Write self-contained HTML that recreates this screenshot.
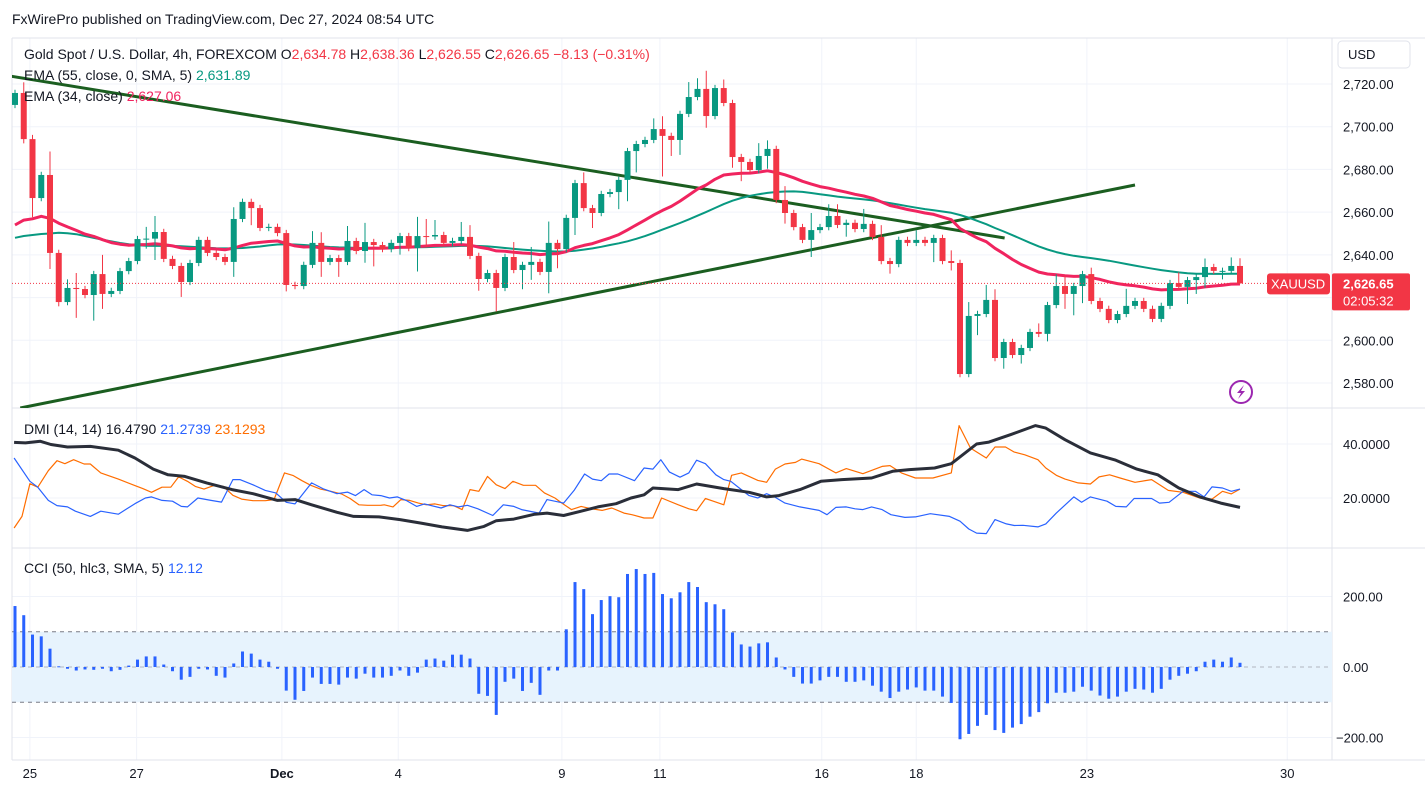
<!DOCTYPE html>
<html><head><meta charset="utf-8"><style>
html,body{margin:0;padding:0;background:#fff;}
body{width:1425px;height:805px;overflow:hidden;font-family:"Liberation Sans",sans-serif;}
svg text{font-family:"Liberation Sans",sans-serif;}
</style></head><body>
<svg id="c" width="1425" height="805" xmlns="http://www.w3.org/2000/svg">
<defs><clipPath id="mainclip"><rect x="12" y="38" width="1320" height="370"/></clipPath></defs>
<text x="12" y="24" font-size="14" fill="#131722">FxWirePro published on TradingView.com, Dec 27, 2024 08:54 UTC</text>
</svg>
<script>
const closes=[2715.8,2694.2,2666.6,2677.4,2640.9,2617.9,2624.5,2624.0,2621.2,2631,2621.7,2623.1,2632.4,2637.1,2647.4,2647.6,2650.7,2638.1,2634.8,2627.3,2636.2,2647,2640.9,2639,2636.7,2656.8,2664.8,2661.9,2652.6,2653.1,2650.2,2625.9,2625.4,2635.3,2645.6,2636.7,2638.5,2636.7,2646.5,2641.8,2646,2644.6,2642.7,2645.6,2648.8,2643.2,2648.8,2648.6,2649.3,2645.6,2646.5,2648.4,2639.5,2628.7,2631.5,2624.5,2639,2632.9,2635.3,2636.7,2632,2645.6,2642.7,2657.3,2673.6,2661.9,2659.6,2668.5,2669.4,2675.1,2688.6,2691.9,2693.8,2698.9,2695.7,2693.8,2706,2713.9,2717.7,2705,2718.1,2711.1,2685.8,2683.5,2679.7,2686.3,2689.6,2665.7,2659.6,2653,2647,2651.6,2653,2658.2,2654,2655,2652.1,2654.5,2648.4,2637.1,2635.7,2647,2645.6,2647,2645.6,2647.9,2637.1,2636.2,2584.2,2611.4,2612.3,2618.9,2591.7,2599.2,2593.1,2596.4,2603.9,2603,2616.5,2625.4,2621.7,2625.4,2631,2618.4,2614.7,2609.5,2612.3,2616.1,2618.4,2614.7,2610,2616.1,2626.8,2625,2628.2,2629.6,2634.3,2632.5,2632.5,2634.8,2626.65];
const firstOpen=2710.2;
const wickUp={2:5,3:2,5:11,7:4,8:7,11:9,16:5.5,17:7.5,26:5.5,35:5.5,36:5,39:7,41:9,47:9,48:8,49:7,52:7,53:5.5,58:7,60:7,62:10,66:5,74:5,75:6,78:7,79:5,80:8.5,82:4,86:6,87:4,89:6.5,92:8,94:5.5,95:5.5,98:7,100:5.5,104:4.5,108:5,110:6.5,112:7,113:5,118:4,120:5.5,121:5,124:3,128:8,134:5,137:4,140:4,141:3.6};
const wickDn={2:2,3:9,5:7.5,6:2,8:13.5,10:12,11:7,16:4.5,17:10,20:7,26:7,28:8,32:3,36:7,38:7,41:5.5,42:10,45:5.5,47:11,48:5,54:5.5,56:11,59:9,60:7,62:10,63:9,65:8,67:7,70:8,71:10,72:10,75:19,76:7.5,77:7,80:5.5,83:5,84:9,87:6,89:5,92:8,96:5.5,101:4.5,106:9,108:3.5,111:9,114:5,116:4,119:3.5,121:7,122:10,123:8,135:8,136:6.5,137:5,139:4,141:0.1};
const cci=[173,147,92,87,52,2,-5,-10,-7,-8,-5,-12,-8,4,21,30,30,7,-12,-36,-28,-5,-7,-25,-30,10,44,38,21,15,-5,-67,-93,-68,-30,-48,-48,-50,-30,-33,-19,-30,-30,-25,-10,-25,-16,21,24,18,35,35,24,-76,-82,-136,-42,-33,-68,-45,-79,-10,-10,107,241,221,150,190,201,198,264,278,264,267,207,195,212,241,227,184,178,164,98,64,58,67,70,27,-7,-28,-47,-47,-38,-28,-28,-42,-42,-38,-53,-70,-88,-70,-64,-58,-67,-67,-84,-102,-205,-190,-167,-136,-179,-187,-172,-162,-141,-128,-103,-73,-73,-70,-56,-67,-81,-90,-84,-70,-62,-64,-73,-62,-36,-25,-19,-12,15,21,15,27,12];
const adxBars=[0.9,2.2,3.9,5.1,7,9.6,12.8,14.7,16.8,18.5,20.4,22.9,25.8,28.2,31,33,34.9,37.8,39.7,42.6,45,47.4,49.8,52.7,54.6,56,58,60.4,61.8,63.7,65.7,67.6,69.7,71.4,72.9,73.9,76.8,78.9,82,84.9,86.9,88.3,90.7,93.1,95.5,98.9,101.3,103.2,106.1,108,110.9,112.3,114.8,117.6,118.8,121,123.9,126.8,129.2,131.6,134,136.4,138.8,141];
const adxVals=[40.6,40.4,41,39.8,38.9,39.1,37.7,34.8,30.7,28.6,28,25.6,23.1,21.6,19.1,19.4,17.5,14.7,13.2,13,12,10.7,9.3,8,9.5,11.6,12.2,14,14.4,13.5,15.1,16.7,17.9,20,21.2,23.7,23.1,25.2,23.5,22.1,20.4,20.9,23.1,26.2,26.8,27.4,29.9,30.5,31.1,32.7,40,40.7,43.5,46.8,45.9,41.6,36.7,34,30.7,28.6,23.7,20.4,18.1,16.5];
const pdiBars=[0.9,2.7,3.6,4.8,5.8,7,7.9,9.6,10.8,12.8,14.7,15.9,16.6,17.8,19,20,20.7,21.9,23.4,24.6,25.9,26.7,28.2,29.6,30.8,32,33,34.9,36.3,37.8,39,39.9,40.9,41.8,42.8,43.8,44.7,45.7,46.9,47.8,49.7,50.7,51.7,52.7,53.9,55.6,56.8,58,58.9,60.9,61.8,63.7,64.9,66.1,67,68,68.9,69.9,71.8,72.9,73.9,74.8,75.8,77,78,78.9,79.9,81.1,82,82.8,84,84.9,85.9,86.9,87.8,89,90.7,92.9,93.8,94.8,96,97,97.9,98.9,100.1,101.1,102.7,103.9,105.6,107.8,109,110,110.9,112,113,114.3,115.2,116.2,117.9,118.8,120,122,122.9,123.9,125.8,126.8,128,128.9,130.9,131.8,132.9,134.5,135.9,136.9,137.8,139,140,141];
const pdiVals=[34.8,26.2,24,19.1,17.2,16.7,15.1,13.2,15.1,14,17.9,20,20.4,19.1,18.8,16.9,16.7,20,19.1,18.5,26.8,26.8,24.9,22.8,21.9,18.4,17.8,25.6,23.3,21.6,22.2,20.9,23.1,21.2,20.9,20,20.4,19.1,16.9,17.8,16.3,17.5,16.7,17.3,16,13.5,17.5,16.9,15.7,14.4,19.4,18.1,22.8,28.9,27,26.4,28.9,28.9,26.4,31.1,30.7,34.2,29.6,27.7,29.3,34,32.7,28.6,26.8,26.2,23.1,20.9,20,21.6,20.4,18.1,16.7,15.4,13.8,16.5,16.7,16,15.7,16.7,15.7,13.8,12.8,13,14.2,13.2,11.4,8.5,7,6.8,12,10.4,9.8,9.9,9.3,10.4,14.4,20.4,18.4,20.4,18.8,16.9,16.7,19.8,19.8,18.1,18.4,22.5,22.5,20.4,24.1,23.7,22.5,23.3,21.2];
const mdiBars=[0.9,1.8,2.7,3.6,4.8,5.8,6.7,7.7,8.9,9.6,10.8,12.8,14.7,15.6,16.6,17.8,18.8,19.7,20.7,21.6,22.6,23.8,24.8,25.9,26.9,28.2,29.6,30.6,31.8,32.8,33.8,34.8,35.9,37.1,38.3,39.3,40.3,41.3,42.8,43.2,44.2,45.1,46.1,47.1,48,49,49.9,51.1,52.1,53,54,55,56,57,57.9,59.1,60.5,61.5,62.7,63.5,64.6,65.7,66.9,68.1,69.2,70.6,71.5,72.9,73.9,74.9,76.8,78,78.9,79.9,80.8,82,82.9,84,84.9,85.9,86.9,87.9,89,90.2,90.9,92.9,94.8,96,97.9,100.1,101,102.3,103.9,105.9,108,108.9,110.2,112,113,114.2,115.2,116.4,117.9,118.8,120,121,122.5,123.9,124.9,126.1,127.3,129,130.9,132.8,134.5,136.4,137.8,139,140,141];
const mdiVals=[8.9,13.2,25.3,24,30.1,33.8,32.7,34.2,32.6,32.6,29.3,27,24.6,23.5,22.1,24,24,27.8,26.2,24.3,23.3,24.7,24.3,21,19.6,19,19,19.4,29.3,28.3,26.4,24.7,23.3,22.5,21.5,19.8,17.5,17.3,17.3,17.5,16.7,19.4,19.1,18.1,17.5,17.8,17.2,17.2,15.7,23.1,22.5,28,24.9,23.5,26.2,24.7,24.7,21.9,20,18.1,15.7,16.9,16,15.4,16.3,14.4,13.8,12.6,12.6,20,17.5,16,15.3,19.8,18.8,17.5,28.4,29.3,28,26.5,25.8,30.7,32.6,33.2,34.4,32.7,29.3,30.9,29,31.7,32,29.3,27.4,27.4,29.3,46.8,38.5,34.8,38.9,38.9,37,36,34.2,31.1,28.4,27,25.6,25.2,27.8,28.6,27.4,25.8,26.8,22.8,22.1,20,19.6,22.5,21.5,23.3];
const priceTicks=[2720,2700,2680,2660,2640,2620,2600,2580];
const dmiTicks=[40,20];
const cciTicks=[200,0,-200];
const timeLabels=['25','27','Dec','4','9','11','16','18','23','30'];
const timeBars=[2.7,14.9,31.5,44.8,63.5,74.7,93.2,104,123.5,146.4];
const trend1=[[-0.3,2724.2],[114.1,2647.9]];
const trend2=[[1.6,2568.3],[129,2672.7]];
const lastPrice=2626.65;

const NS='http://www.w3.org/2000/svg';
const svg=document.getElementById('c');
function mk(tag,attrs,parent){const e=document.createElementNS(NS,tag);for(const k in attrs)e.setAttribute(k,attrs[k]);(parent||svg).appendChild(e);return e;}
const X=b=>15+(b-1)*8.75;
const PY=p=>84+(2720-p)*2.1357;
const DY=v=>498-(v-20)*2.7;
const CY=v=>667-v*0.3524;
const L=12,R=1332;

const grid=mk('g',{});


timeBars.forEach(b=>{mk('line',{x1:X(b),x2:X(b),y1:38,y2:760,stroke:'#f0f3fa','stroke-width':1},grid);});
priceTicks.forEach(p=>{mk('line',{x1:L,x2:R,y1:PY(p),y2:PY(p),stroke:'#f0f3fa'},grid);});
dmiTicks.forEach(v=>{mk('line',{x1:L,x2:R,y1:DY(v),y2:DY(v),stroke:'#f0f3fa'},grid);});
[200,-200].forEach(v=>{mk('line',{x1:L,x2:R,y1:CY(v),y2:CY(v),stroke:'#f0f3fa'},grid);});
[38,408,548,760].forEach(y=>{mk('line',{x1:L,x2:1425,y1:y,y2:y,stroke:'#e0e3eb'});});
mk('line',{x1:R,x2:R,y1:38,y2:760,stroke:'#e0e3eb'});
mk('line',{x1:L,x2:L,y1:38,y2:760,stroke:'#e0e3eb'});

const band=mk('rect',{x:L,y:CY(100),width:R-L,height:CY(-100)-CY(100),fill:'#e7f3fd'});


[100,0,-100].forEach(v=>{mk('line',{x1:L,x2:R,y1:CY(v),y2:CY(v),stroke:v===0?'#b2b5be':'#787b86','stroke-dasharray':'4 4'});});

const mainG=mk('g',{'clip-path':'url(#mainclip)'});


function trend(t,name){const ln=mk('line',{x1:X(t[0][0]),y1:PY(t[0][1]),x2:X(t[1][0]),y2:PY(t[1][1]),stroke:'#1b5e20','stroke-width':3},mainG);

}
trend(trend1,'descending-trendline');
trend(trend2,'ascending-trendline');

const ema34=[],ema55raw=[];let e34=2654,e55=2648;
closes.forEach((c,i)=>{e34=i?e34+(c-e34)*2/35:e34;e55=i?e55+(c-e55)*2/56:e55;ema34.push(e34);ema55raw.push(e55);});
const ema55=ema55raw.map((v,i)=>{const s=ema55raw.slice(Math.max(0,i-4),i+1);return s.reduce((a,b)=>a+b,0)/s.length;});
function poly(vals,bars,yf,stroke,w,name,parent){const pts=vals.map((v,i)=>X(bars?bars[i]:i+1).toFixed(1)+','+yf(v).toFixed(1)).join(' ');
const p=mk('polyline',{points:pts,fill:'none',stroke:stroke,'stroke-width':w,'stroke-linejoin':'round'},parent);

}
poly(ema55,null,PY,'#089981',2,'ema-55-line',mainG);
poly(ema34,null,PY,'#f0245f',3,'ema-34-line',mainG);

const cg=mk('g',{},mainG);


closes.forEach((c,i)=>{const b=i+1;const o=i?closes[i-1]:firstOpen;const up=c>=o;const col=up?'#089981':'#f23645';
const hi=Math.max(o,c)+(wickUp[b]!==undefined?wickUp[b]:1.5);const lo=Math.min(o,c)-(wickDn[b]!==undefined?wickDn[b]:1.5);
const x=X(b);
const w=mk('line',{x1:x,x2:x,y1:PY(hi),y2:PY(lo),stroke:col,'stroke-width':1},cg);


const yt=PY(Math.max(o,c)),yb=PY(Math.min(o,c));
const r=mk('rect',{x:x-3,y:yt,width:6,height:Math.max(1,yb-yt),fill:col},cg);

});

mk('line',{x1:L,x2:R,y1:PY(lastPrice),y2:PY(lastPrice),stroke:'#f23645','stroke-dasharray':'1 2'});

poly(mdiVals,mdiBars,DY,'#ff6d00',1.2,'dmi-minus-di-line');
poly(pdiVals,pdiBars,DY,'#2962ff',1.2,'dmi-plus-di-line');
poly(adxVals,adxBars,DY,'#2a2e39',3,'dmi-adx-line');

cci.forEach((v,i)=>{const x=X(i+1);const y0=CY(0),y1=CY(v);
const r=mk('rect',{x:x-1.5,y:Math.min(y0,y1),width:3,height:Math.max(1,Math.abs(y1-y0)),fill:'#2962ff'});

});

priceTicks.forEach(p=>{const t=mk('text',{x:1343,y:PY(p)+5,'font-size':13,fill:'#131722'});t.textContent=p.toLocaleString('en-US',{minimumFractionDigits:2});

});
dmiTicks.forEach(v=>{const t=mk('text',{x:1343,y:DY(v)+5,'font-size':13,fill:'#131722'});t.textContent=v.toFixed(4);

});
cciTicks.forEach(v=>{const t=mk('text',{x:v<0?1336:1343,y:CY(v)+5,'font-size':13,fill:'#131722'});t.textContent=(v<0?'−':'')+Math.abs(v).toFixed(2);

});
timeLabels.forEach((s,i)=>{const t=mk('text',{x:X(timeBars[i]),y:778,'font-size':13,fill:'#131722','text-anchor':'middle','font-weight':s==='Dec'?'bold':'normal'});t.textContent=s;

});

const ub=mk('rect',{x:1338,y:41,width:72,height:27,rx:4,fill:'#fff',stroke:'#e0e3eb'});


const ut=mk('text',{x:1348,y:59,'font-size':13,fill:'#131722'});ut.textContent='USD';
const y0=PY(lastPrice);
const sb=mk('rect',{x:1267,y:y0-10,width:63,height:21,rx:3,fill:'#f23645'});


const st=mk('text',{x:1271,y:y0+5,'font-size':13,fill:'#fff'});st.textContent='XAUUSD';
const pb=mk('rect',{x:1332,y:y0-10,width:78,height:37,rx:2,fill:'#f23645'});


const pt=mk('text',{x:1343,y:y0+5,'font-size':13,fill:'#fff','font-weight':'bold'});pt.textContent='2,626.65';
const ct=mk('text',{x:1343,y:y0+22,'font-size':13,fill:'#fff'});ct.textContent='02:05:32';
const ic=mk('circle',{cx:1241,cy:392,r:11,fill:'none',stroke:'#9c27b0','stroke-width':2});


mk('path',{d:'M1244 385 L1237 393 L1241 393 L1238 399 L1245 391 L1241 391 Z',fill:'#9c27b0'});

function legend(y,parts,name){const t=mk('text',{x:24,y:y,'font-size':14,fill:'#131722'});


parts.forEach(p=>{const s=mk('tspan',{fill:p[1]},t);s.textContent=p[0];});}
const red='#f23645';
legend(59,[['Gold Spot / U.S. Dollar, 4h, FOREXCOM  ','#131722'],['O','#131722'],['2,634.78 ',red],['H','#131722'],['2,638.36 ',red],['L','#131722'],['2,626.55 ',red],['C','#131722'],['2,626.65 −8.13 (−0.31%)',red]],'main-legend');
legend(80,[['EMA (55, close, 0, SMA, 5)  ','#131722'],['2,631.89','#089981']],'ema55-legend');
legend(101,[['EMA (34, close)  ','#131722'],['2,627.06','#f0245f']],'ema34-legend');
legend(434,[['DMI (14, 14)  ','#131722'],['16.4790  ','#131722'],['21.2739  ','#2962ff'],['23.1293','#ff6d00']],'dmi-legend');
legend(573,[['CCI (50, hlc3, SMA, 5)  ','#131722'],['12.12','#2962ff']],'cci-legend');
</script>
</body></html>
